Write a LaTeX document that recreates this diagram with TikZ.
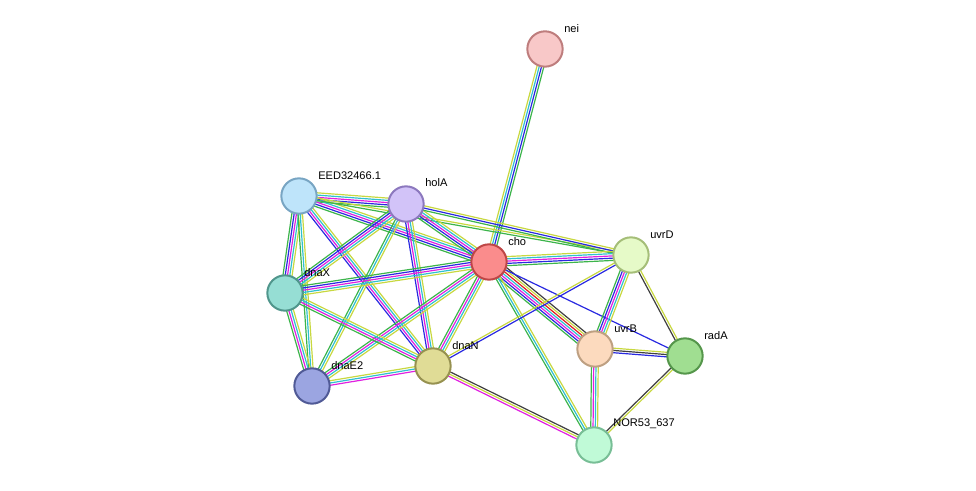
\documentclass[tikz,border=0pt]{standalone}
\usepackage{fontspec}
\setmainfont{Liberation Sans}
\usetikzlibrary{calc,backgrounds}
\definecolor{egG}{HTML}{3CB44B}
\definecolor{egB}{HTML}{2929E0}
\definecolor{egM}{HTML}{E020E0}
\definecolor{egC}{HTML}{30C0D0}
\definecolor{egY}{HTML}{C8D840}
\definecolor{egK}{HTML}{404040}
\definecolor{egR}{HTML}{E02020}
\newcommand\sedge[4]{%
 \foreach \c [count=\i] in {#3}{%
  \pgfmathsetmacro\o{(\i-(#4+1)/2)*1.7}%
  \draw[draw=\c, line width=0.9pt] ($(#1.center)!\o pt!90:(#2.center)$) -- ($(#2.center)!\o pt!-90:(#1.center)$);
 }}
\tikzset{prot/.style={circle,minimum size=26.5pt,inner sep=0pt,line width=1.5pt},
 lab/.style={anchor=south west,font=\fontsize{8.3pt}{9pt}\selectfont,inner sep=0pt}}
\begin{document}
\begin{tikzpicture}[x=0.75pt,y=-0.75pt]
\useasboundingbox (0,0) rectangle (976,491);
\node[prot,fill={rgb,255:red,248;green,200;blue,200},draw={rgb,255:red,190;green,125;blue,125}] (nei) at (545,49) {};
\node[prot,fill={rgb,255:red,190;green,228;blue,250},draw={rgb,255:red,120;green,165;blue,195}] (eed) at (299,196) {};
\node[prot,fill={rgb,255:red,210;green,195;blue,248},draw={rgb,255:red,140;green,120;blue,190}] (holA) at (406,204) {};
\node[prot,fill={rgb,255:red,250;green,140;blue,140},draw={rgb,255:red,190;green,70;blue,70}] (cho) at (489,262) {};
\node[prot,fill={rgb,255:red,230;green,250;blue,200},draw={rgb,255:red,165;green,190;blue,120}] (uvrD) at (631,255) {};
\node[prot,fill={rgb,255:red,150;green,222;blue,212},draw={rgb,255:red,80;green,150;blue,140}] (dnaX) at (285,293) {};
\node[prot,fill={rgb,255:red,224;green,220;blue,150},draw={rgb,255:red,150;green,145;blue,80}] (dnaN) at (433,366) {};
\node[prot,fill={rgb,255:red,155;green,165;blue,225},draw={rgb,255:red,80;green,90;blue,150}] (dnaE2) at (312,386) {};
\node[prot,fill={rgb,255:red,252;green,218;blue,190},draw={rgb,255:red,190;green,160;blue,130}] (uvrB) at (595,349) {};
\node[prot,fill={rgb,255:red,160;green,222;blue,145},draw={rgb,255:red,85;green,150;blue,75}] (radA) at (685,356) {};
\node[prot,fill={rgb,255:red,192;green,250;blue,215},draw={rgb,255:red,120;green,190;blue,150}] (nor) at (594,445) {};
\node[lab] at (564,33) {nei};
\node[lab] at (318,180) {EED32466.1};
\node[lab] at (425,187) {holA};
\node[lab] at (508,246) {cho};
\node[lab] at (650,239) {uvrD};
\node[lab] at (304,277) {dnaX};
\node[lab] at (452,350) {dnaN};
\node[lab] at (331,370) {dnaE2};
\node[lab] at (614,333) {uvrB};
\node[lab] at (704,340) {radA};
\node[lab] at (613,429) {NOR53\_637};
\begin{scope}[on background layer]
\sedge{cho}{nei}{egG,egB,egC,egY}{4}
\sedge{eed}{holA}{egG,egB,egM,egC,egY}{5}
\sedge{eed}{cho}{egG,egB,egM,egC,egY}{5}
\sedge{eed}{dnaX}{egG,egB,egM,egC,egY}{5}
\sedge{eed}{dnaE2}{egG,egC,egY}{3}
\sedge{eed}{dnaN}{egB,egM,egC,egY}{4}
\sedge{eed}{uvrD}{egG,egY}{2}
\sedge{holA}{cho}{egG,egB,egM,egC,egY}{5}
\sedge{holA}{dnaX}{egG,egB,egM,egC,egY}{5}
\sedge{holA}{dnaE2}{egG,egC,egY}{3}
\sedge{holA}{dnaN}{egB,egM,egC,egY}{4}
\sedge{holA}{uvrD}{egG,egB,egY}{3}
\sedge{cho}{dnaX}{egG,egB,egM,egC,egY}{5}
\sedge{cho}{dnaE2}{egG,egM,egC,egY}{4}
\sedge{cho}{dnaN}{egG,egM,egC,egY}{4}
\sedge{cho}{uvrD}{egG,egB,egM,egC,egY}{5}
\sedge{cho}{uvrB}{egG,egB,egM,egC,egR,egY,egK}{7}
\sedge{cho}{radA}{egB}{1}
\sedge{cho}{nor}{egG,egC,egY}{3}
\sedge{dnaX}{dnaE2}{egG,egM,egC,egY}{4}
\sedge{dnaX}{dnaN}{egG,egM,egC,egY}{4}
\sedge{dnaE2}{dnaN}{egM,egC,egY}{3}
\sedge{dnaN}{uvrD}{egB,egY}{2}
\sedge{dnaN}{nor}{egM,egY,egK}{3}
\sedge{uvrD}{uvrB}{egG,egB,egM,egC,egY}{5}
\sedge{uvrD}{radA}{egK,egY}{2}
\sedge{uvrB}{radA}{egB,egK,egY}{3}
\sedge{uvrB}{nor}{egG,egM,egC,egY}{4}
\sedge{radA}{nor}{egK,egY}{2}
\end{scope}
\end{tikzpicture}
\end{document}
